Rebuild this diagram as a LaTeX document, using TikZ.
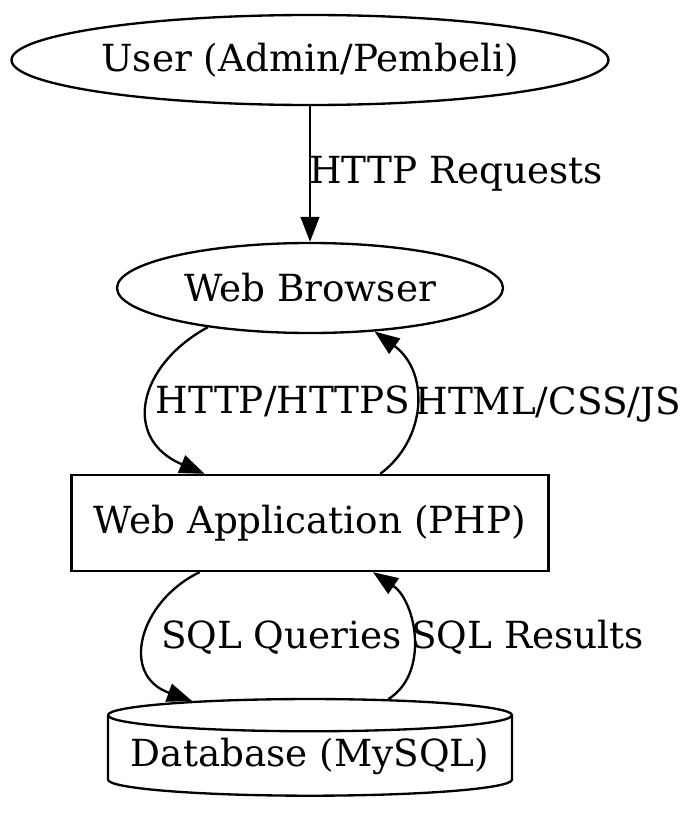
\documentclass[tikz,border=0pt]{standalone}
\usepackage{fontspec}
\setmainfont{DejaVu Serif}
\usetikzlibrary{shapes,shapes.geometric,arrows.meta,positioning}
\tikzset{
  elnode/.style={ellipse, draw, inner sep=0pt, minimum height=27pt},
  boxnode/.style={rectangle, draw, inner sep=0pt, minimum width=143.1pt, minimum height=28.8pt},
  dbnode/.style={cylinder, shape border rotate=90, aspect=0.09, draw, inner sep=0pt, minimum width=121.2pt, minimum height=29pt},
  flow/.style={-{Triangle[length=7.5pt,width=5.6pt]}},
  lbl/.style={anchor=west, inner sep=1pt}
}
\begin{document}
\begin{tikzpicture}[x=0.3pt,y=-0.3pt,line width=0.7pt,font=\fontsize{11.2}{13}\selectfont]
\useasboundingbox (0,0) rectangle (686,814);
% nodes
\node[elnode, minimum width=179.1pt] (user) at (310,60) {User (Admin/Pembeli)};
\node[elnode, minimum width=115.8pt] (browser) at (310,288) {Web Browser};
\node[boxnode] (app) at (310,523) {Web Application (PHP)};
\node[dbnode] (db) at (310,756) {Database (MySQL)};
% edges
\draw[flow] (user) -- node[lbl, xshift=-1.6pt] {HTTP Requests} (browser);
\draw[flow] (browser.201) .. controls +(-70,38) and +(-83,-35) .. node[lbl, xshift=0.8pt] {HTTP/HTTPS} (app.155.8);
\draw[flow] (app.35.2) .. controls +(47,-35) and +(55,40) .. node[lbl, xshift=-1.4pt] {HTML/CSS/JS} (browser.326);
\draw[flow] (app.204.6) .. controls +(-60,29) and +(-73,-26) .. node[lbl, xshift=3.2pt] {SQL Queries} (db.155.7);
\draw[flow] (db.36.1) .. controls +(42,-26) and +(43,29) .. node[lbl, xshift=-1.7pt] {SQL Results} (app.322.3);
\end{tikzpicture}
\end{document}
